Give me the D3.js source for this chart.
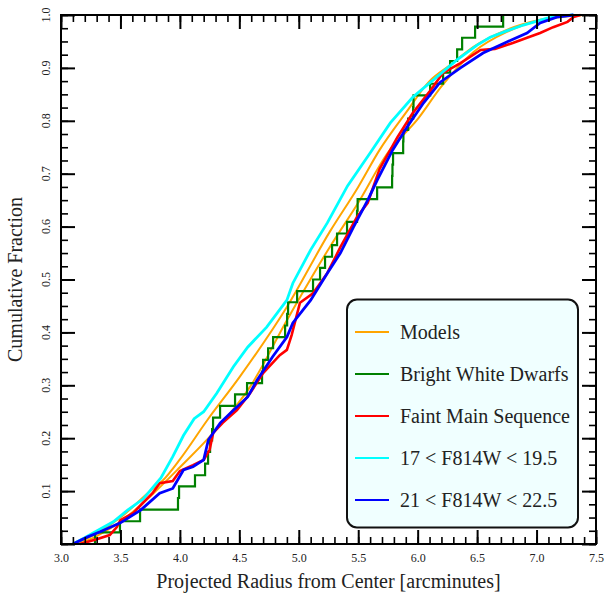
<!DOCTYPE html>
<html><head><meta charset="utf-8">
<script src="https://cdn.jsdelivr.net/npm/d3@7/dist/d3.min.js"></script>
<style>body{margin:0;background:#fff}svg{display:block}</style>
</head><body>
<svg id="chart" width="605" height="594"></svg>
<script>
// ---- data ----
const xTickLabels = [3.0, 3.5, 4.0, 4.5, 5.0, 5.5, 6.0, 6.5, 7.0, 7.5];
const yTickLabels = [0.1, 0.2, 0.3, 0.4, 0.5, 0.6, 0.7, 0.8, 0.9, 1.0];

const modelA_r = [3.12, 3.3, 3.5, 3.75, 3.86, 4.0, 4.23, 4.5, 4.9, 5.26, 5.5, 5.68, 5.9, 6.1, 6.27, 6.47, 6.75, 7.03, 7.37];
const modelA_f = [0, 0.02, 0.05, 0.10, 0.121, 0.16, 0.234, 0.315, 0.448, 0.59, 0.675, 0.745, 0.815, 0.875, 0.905, 0.94, 0.972, 0.991, 1.0];
const modelB_r = [3.15, 3.3, 3.5, 3.75, 4.0, 4.28, 4.59, 4.9, 5.26, 5.5, 5.75, 6.0, 6.2, 6.47, 6.75, 7.03, 7.4];
const modelB_f = [0, 0.015, 0.042, 0.09, 0.145, 0.21, 0.297, 0.423, 0.561, 0.645, 0.74, 0.803, 0.865, 0.93, 0.968, 0.99, 1.0];

// Bright white dwarfs: radius of each step (fraction = k/46)
const wd_r = [3.286, 3.496, 3.665, 3.984, 3.993, 4.127, 4.212, 4.237, 4.254, 4.271, 4.279, 4.338, 4.464, 4.565, 4.691, 4.700,
  4.742, 4.784, 4.885, 4.902, 4.910, 4.986, 5.120, 5.179, 5.221, 5.280, 5.322, 5.406, 5.490, 5.495, 5.659, 5.785, 5.788,
  5.793, 5.878, 5.880, 5.920, 5.962, 5.965, 6.105, 6.214, 6.273, 6.332, 6.374, 6.483, 6.719];
const wd_f = [0.022, 0.043, 0.065, 0.087, 0.109, 0.130, 0.152, 0.174, 0.196, 0.217, 0.239, 0.261, 0.283, 0.304, 0.326, 0.348,
  0.370, 0.391, 0.413, 0.435, 0.457, 0.478, 0.500, 0.522, 0.543, 0.565, 0.587, 0.609, 0.630, 0.652, 0.674, 0.696, 0.717,
  0.739, 0.761, 0.783, 0.804, 0.826, 0.848, 0.870, 0.891, 0.913, 0.935, 0.957, 0.978, 1.0];

const ms_r = [3.16, 3.30, 3.41, 3.47, 3.50, 3.61, 3.69, 3.77, 3.83, 3.94, 4.00, 4.11, 4.20, 4.25, 4.28, 4.36, 4.48, 4.59, 4.70, 4.84,
  4.90, 4.94, 5.01, 5.12, 5.24, 5.35, 5.49, 5.58, 5.68, 5.83, 5.96, 6.11, 6.21, 6.36, 6.53, 6.65, 6.80, 6.92, 7.03, 7.14, 7.26, 7.31, 7.37];
const ms_f = [0, 0.009, 0.017, 0.032, 0.045, 0.059, 0.078, 0.096, 0.115, 0.119, 0.138, 0.149, 0.159, 0.178, 0.21, 0.229, 0.253, 0.285, 0.323, 0.357,
  0.367, 0.395, 0.456, 0.474, 0.512, 0.561, 0.618, 0.645, 0.709, 0.769, 0.815, 0.858, 0.89, 0.909, 0.934, 0.936, 0.947, 0.957, 0.966, 0.977, 0.987, 0.996, 1.0];

const bright_r = [3.10, 3.20, 3.27, 3.44, 3.56, 3.69, 3.84, 3.94, 4.03, 4.12, 4.20, 4.31, 4.45, 4.57, 4.73, 4.90, 4.95, 5.10, 5.24, 5.41,
  5.60, 5.77, 5.96, 6.13, 6.33, 6.50, 6.61, 6.75, 6.89, 7.09, 7.20, 7.31];
const bright_f = [0, 0.012, 0.021, 0.042, 0.064, 0.085, 0.125, 0.165, 0.205, 0.237, 0.250, 0.285, 0.335, 0.372, 0.41, 0.461, 0.493, 0.556, 0.607, 0.677,
  0.739, 0.796, 0.845, 0.877, 0.915, 0.943, 0.958, 0.97, 0.981, 0.994, 0.998, 1.0];

const faint_r = [3.10, 3.22, 3.33, 3.50, 3.67, 3.83, 3.94, 4.03, 4.11, 4.20, 4.24, 4.34, 4.45, 4.57, 4.65, 4.78, 4.90, 4.95, 5.10, 5.24,
  5.35, 5.46, 5.58, 5.66, 5.79, 5.91, 6.05, 6.19, 6.36, 6.55, 6.75, 6.92, 7.03, 7.17, 7.31];
const faint_f = [0, 0.013, 0.023, 0.040, 0.064, 0.096, 0.105, 0.140, 0.146, 0.159, 0.197, 0.229, 0.253, 0.278, 0.310, 0.354, 0.391, 0.418, 0.461, 0.512,
  0.550, 0.599, 0.650, 0.688, 0.745, 0.788, 0.834, 0.873, 0.900, 0.928, 0.949, 0.966, 0.985, 0.996, 1.0];

const legendLabels = ["Models", "Bright White Dwarfs", "Faint Main Sequence", "17 < F814W < 19.5", "21 < F814W < 22.5"];
const legendColors = ["#ffa500", "#008000", "#ff0000", "#00ffff", "#0000ff"];

// ---- drawing ----
const FONT = "'Liberation Serif', 'DejaVu Serif', serif";
const svg = d3.select("#chart");
const L = 61, R = 596, T = 15, B = 544;
const x = d3.scaleLinear().domain([3, 7.5]).range([L, R]);
const y = d3.scaleLinear().domain([0, 1]).range([B, T]);

const zip = (a, b) => a.map((v, i) => [v, b[i]]);
const line = d3.line().x(d => x(d[0])).y(d => y(d[1]));

const g = svg.append("g");
// models
[zip(modelA_r, modelA_f), zip(modelB_r, modelB_f)].forEach(d => {
  g.append("path").datum(d).attr("fill", "none").attr("stroke", legendColors[0]).attr("stroke-width", 2)
    .attr("d", line.curve(d3.curveMonotoneX));
});
// white dwarfs (step ECDF)
const wd = [[wd_r[0], 0]].concat(zip(wd_r, wd_f));
g.append("path").datum(wd).attr("fill", "none").attr("stroke", legendColors[1]).attr("stroke-width", 2.2)
  .attr("d", d3.line().x(d => x(d[0])).y(d => y(d[1])).curve(d3.curveStepAfter));
// faint MS, bright, faint
const lin = d3.line().x(d => x(d[0])).y(d => y(d[1]));
g.append("path").datum(zip(ms_r, ms_f)).attr("fill", "none").attr("stroke", legendColors[2]).attr("stroke-width", 2.6).attr("d", lin);
g.append("path").datum(zip(bright_r, bright_f)).attr("fill", "none").attr("stroke", legendColors[3]).attr("stroke-width", 2.8).attr("d", lin);
g.append("path").datum(zip(faint_r, faint_f)).attr("fill", "none").attr("stroke", legendColors[4]).attr("stroke-width", 2.8).attr("d", lin);

// axes: inward ticks on all four sides
const xMajor = d3.range(3, 7.5001, 0.5), xMinor = d3.range(3, 7.5001, 0.1);
const yMajor = d3.range(0, 1.0001, 0.1), yMinor = d3.range(0, 1.0001, 0.025);
function styleAxis(sel, w) {
  sel.select(".domain").remove();
  sel.selectAll(".tick line").attr("stroke", "#000").attr("stroke-width", w);
}
svg.append("g").attr("transform", `translate(0,${B})`).call(d3.axisBottom(x).tickValues(xMinor).tickSize(-7).tickFormat("")).call(s => styleAxis(s, 1.6));
svg.append("g").attr("transform", `translate(0,${T})`).call(d3.axisTop(x).tickValues(xMinor).tickSize(-7).tickFormat("")).call(s => styleAxis(s, 1.6));
svg.append("g").attr("transform", `translate(${L},0)`).call(d3.axisLeft(y).tickValues(yMinor).tickSize(-7).tickFormat("")).call(s => styleAxis(s, 1.6));
svg.append("g").attr("transform", `translate(${R},0)`).call(d3.axisRight(y).tickValues(yMinor).tickSize(-7).tickFormat("")).call(s => styleAxis(s, 1.6));

svg.append("g").attr("transform", `translate(0,${T})`).call(d3.axisTop(x).tickValues(xMajor).tickSize(-14).tickFormat("")).call(s => styleAxis(s, 2));
svg.append("g").attr("transform", `translate(${R},0)`).call(d3.axisRight(y).tickValues(yMajor).tickSize(-14).tickFormat("")).call(s => styleAxis(s, 2));

const xb = svg.append("g").attr("transform", `translate(0,${B})`)
  .call(d3.axisBottom(x).tickValues(xTickLabels).tickSize(-14).tickPadding(9).tickFormat(d3.format(".1f")));
styleAxis(xb, 2);
xb.selectAll("text").attr("font-family", FONT).attr("font-size", 12).attr("fill", "#222");

const yl = svg.append("g").attr("transform", `translate(${L},0)`)
  .call(d3.axisLeft(y).tickValues(yMajor).tickSize(-14).tickFormat(""));
styleAxis(yl, 2);
svg.append("g").selectAll("text").data(yTickLabels).join("text")
  .attr("transform", d => `translate(${L - 11},${y(d)}) rotate(-90)`)
  .attr("text-anchor", "middle").attr("font-family", FONT).attr("font-size", 12).attr("fill", "#222")
  .text(d3.format(".1f"));

// frame
svg.append("rect").attr("x", L).attr("y", T).attr("width", R - L).attr("height", B - T)
  .attr("fill", "none").attr("stroke", "#000").attr("stroke-width", 2);

// axis titles
svg.append("text").attr("x", (L + R) / 2).attr("y", 588).attr("text-anchor", "middle")
  .attr("font-family", FONT).attr("font-size", 20).attr("fill", "#222").text("Projected Radius from Center [arcminutes]");
svg.append("text").attr("transform", `translate(22,${(T + B) / 2}) rotate(-90)`).attr("text-anchor", "middle")
  .attr("font-family", FONT).attr("font-size", 20).attr("fill", "#222").text("Cumulative Fraction");

// legend
const lg = svg.append("g");
lg.append("rect").attr("x", 347).attr("y", 299.5).attr("width", 231).attr("height", 228).attr("rx", 10).attr("ry", 10)
  .attr("fill", "#f0ffff").attr("stroke", "#111").attr("stroke-width", 2);
const rowY = d3.scalePoint().domain(legendLabels).range([332, 500]);
legendLabels.forEach((lab, i) => {
  lg.append("line").attr("x1", 355).attr("x2", 389).attr("y1", rowY(lab)).attr("y2", rowY(lab))
    .attr("stroke", legendColors[i]).attr("stroke-width", 2);
  lg.append("text").attr("x", 400).attr("y", rowY(lab) + 6.5).attr("font-family", FONT).attr("font-size", 20)
    .attr("fill", "#222").text(lab);
});
</script>
</body></html>
